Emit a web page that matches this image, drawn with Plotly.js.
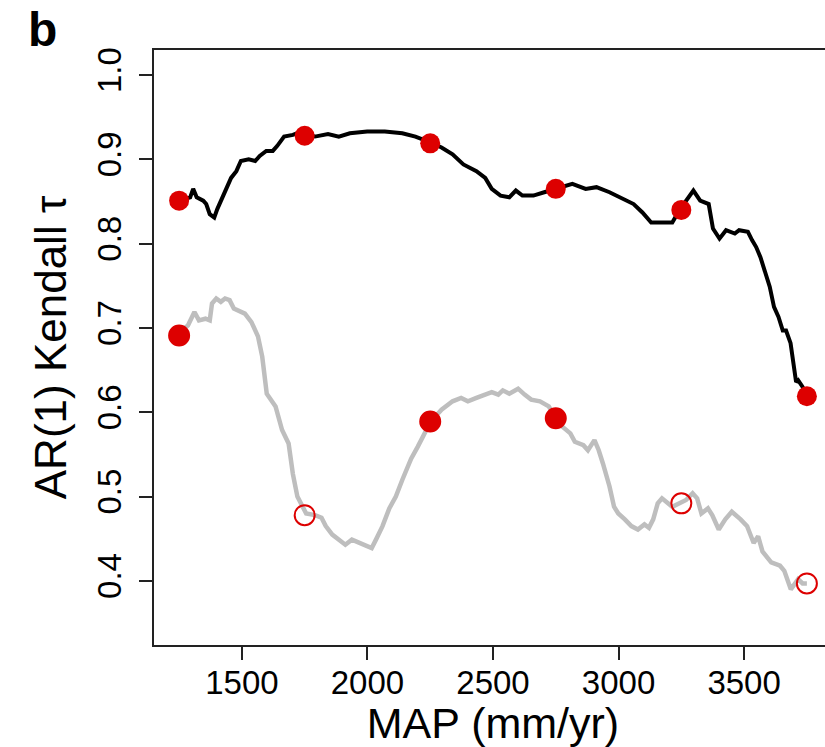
<!DOCTYPE html>
<html>
<head>
<meta charset="utf-8">
<script src="https://cdn.plot.ly/plotly-3.0.1.min.js"></script>
<style>
html,body{margin:0;padding:0;overflow:hidden;background:#fff;}
#chart{width:835px;height:747px;}
</style>
</head>
<body>
<div id="chart"></div>
<script>
// Sample positions (MAP, mm/yr) with markers
const sampleMAP = [1250, 1750, 2250, 2750, 3250, 3750];
const blackSample = [0.851, 0.928, 0.919, 0.865, 0.840, 0.619];
const graySample  = [0.691, 0.478, 0.589, 0.593, 0.492, 0.397];
const graySignificant = [true, false, true, true, false, false];

// Black curve (traced)
const blackMAP = [1259,1294,1306,1320,1346,1358,1372,1390,1402,1444,1457,1478,1496,1527,1553,1571,1597,1623,1641,1668,1703,1737,1752,1791,1843,1886,1930,1999,2069,2139,2191,2252,2295,2339,2382,2434,2469,2495,2530,2565,2591,2617,2661,2704,2750,2816,2869,2912,2964,3008,3060,3095,3130,3174,3214,3243,3271,3298,3325,3359,3376,3402,3428,3463,3480,3515,3532,3548,3565,3584,3602,3619,3637,3654,3667,3685,3698,3707,3715,3733,3750];
const blackVal = [0.852,0.855,0.865,0.855,0.851,0.847,0.835,0.831,0.841,0.871,0.878,0.886,0.898,0.900,0.898,0.904,0.910,0.910,0.916,0.927,0.929,0.933,0.929,0.927,0.930,0.927,0.931,0.933,0.933,0.931,0.927,0.920,0.914,0.906,0.894,0.886,0.878,0.865,0.857,0.855,0.863,0.857,0.857,0.861,0.865,0.871,0.865,0.867,0.861,0.855,0.847,0.837,0.825,0.825,0.825,0.840,0.851,0.863,0.851,0.847,0.818,0.806,0.816,0.812,0.816,0.814,0.804,0.796,0.784,0.764,0.749,0.725,0.713,0.697,0.697,0.682,0.650,0.636,0.638,0.630,0.619];

// Gray curve (traced)
const grayMAP = [1259,1285,1311,1329,1355,1372,1381,1398,1416,1433,1451,1468,1512,1538,1564,1581,1599,1616,1634,1660,1686,1703,1721,1756,1791,1817,1834,1860,1886,1912,1938,1964,1990,2017,2034,2060,2087,2113,2139,2156,2174,2200,2226,2252,2295,2339,2373,2400,2434,2469,2495,2521,2539,2565,2600,2626,2652,2687,2722,2750,2764,2808,2826,2860,2878,2904,2921,2938,2964,2982,2999,3025,3051,3077,3103,3121,3138,3156,3173,3214,3243,3269,3295,3313,3330,3356,3373,3399,3425,3451,3486,3512,3538,3556,3573,3608,3643,3660,3686,3715,3733,3750];
const grayVal = [0.697,0.703,0.719,0.709,0.711,0.709,0.729,0.735,0.731,0.735,0.733,0.723,0.717,0.707,0.690,0.666,0.622,0.615,0.607,0.579,0.563,0.527,0.500,0.480,0.478,0.475,0.465,0.455,0.449,0.443,0.449,0.446,0.443,0.439,0.449,0.465,0.486,0.500,0.520,0.533,0.545,0.559,0.575,0.589,0.603,0.613,0.617,0.613,0.617,0.621,0.624,0.621,0.626,0.622,0.628,0.621,0.615,0.613,0.607,0.593,0.586,0.575,0.565,0.561,0.555,0.567,0.555,0.539,0.512,0.488,0.480,0.473,0.465,0.461,0.467,0.463,0.473,0.492,0.498,0.488,0.492,0.496,0.504,0.498,0.480,0.486,0.478,0.461,0.473,0.482,0.473,0.465,0.445,0.453,0.435,0.422,0.418,0.412,0.390,0.402,0.397,0.397];

const xTicks = [1500, 2000, 2500, 3000, 3500];
const yTicks = [0.4, 0.5, 0.6, 0.7, 0.8, 0.9, 1.0];
const yTickText = ["0.4", "0.5", "0.6", "0.7", "0.8", "0.9", "1.0"];

const RED = "#dd0000";
const FONT = "Liberation Sans, Arial, Helvetica, sans-serif";

const traces = [
  {x: grayMAP, y: grayVal, mode: "lines", line: {color: "#bebebe", width: 4.5}, hoverinfo: "skip"},
  {x: blackMAP, y: blackVal, mode: "lines", line: {color: "#000000", width: 4}, hoverinfo: "skip"},
  {x: sampleMAP, y: graySample, mode: "markers",
   marker: {size: 20, color: RED,
            symbol: graySignificant.map(s => s ? "circle" : "circle-open"),
            line: {color: RED, width: 2}}},
  {x: sampleMAP, y: blackSample, mode: "markers",
   marker: {size: 20, color: RED, symbol: "circle", line: {width: 0}}}
];

const layout = {
  width: 835, height: 747,
  margin: {l: 154, r: 3, t: 50, b: 102},
  paper_bgcolor: "#ffffff", plot_bgcolor: "#ffffff",
  showlegend: false,
  font: {family: FONT, color: "#000"},
  xaxis: {
    range: [1150, 3850], tickvals: xTicks, ticktext: xTicks.map(String),
    showgrid: false, zeroline: false, showline: true, mirror: true,
    linecolor: "#222", linewidth: 2, ticks: "outside", ticklen: 13, tickwidth: 2, tickcolor: "#222",
    tickfont: {size: 33, family: FONT, color: "#000"},
    ticklabelstandoff: -6,
    automargin: false,
    title: {text: "MAP (mm/yr)", font: {size: 43, family: FONT, color: "#000"}, standoff: 4}
  },
  yaxis: {
    range: [0.324, 1.0297], tickvals: yTicks, ticktext: yTickText, tickangle: -90,
    showgrid: false, zeroline: false, showline: true, mirror: true,
    linecolor: "#222", linewidth: 2, ticks: "outside", ticklen: 13, tickwidth: 2, tickcolor: "#222",
    tickfont: {size: 33, family: FONT, color: "#000"},
    ticklabelstandoff: 5,
    automargin: false,
    title: {text: "AR(1) Kendall τ", font: {size: 44, family: FONT, color: "#000"}, standoff: 10}
  },
  annotations: [{
    text: "<b>b</b>", xref: "paper", yref: "paper",
    x: (42 - 154) / 678, y: (645 - 30) / 595, xanchor: "center", yanchor: "middle",
    showarrow: false, font: {size: 48, family: FONT, color: "#000"}
  }]
};

Plotly.newPlot("chart", traces, layout, {staticPlot: true, displayModeBar: false});
</script>
</body>
</html>
